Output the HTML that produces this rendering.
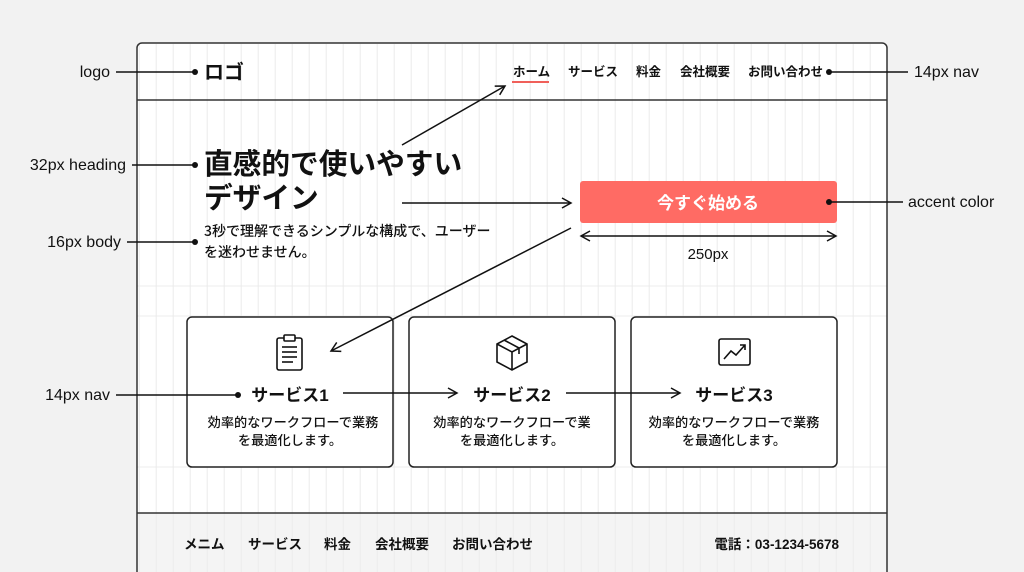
<!DOCTYPE html>
<html><head><meta charset="utf-8"><style>
html,body{margin:0;padding:0;background:#f2f2f2;}
body{width:1024px;height:572px;overflow:hidden;position:relative;font-family:"Liberation Sans","Noto Sans CJK JP",sans-serif;}
svg{position:absolute;left:0;top:0;}
text{font-family:"Liberation Sans","Noto Sans CJK JP",sans-serif;fill:#111;}
.j{font-family:"Noto Sans CJK JP",sans-serif;}
</style></head><body>
<svg width="1024" height="572" viewBox="0 0 1024 572">
<defs>
<marker id="a" markerWidth="12" markerHeight="12" refX="10" refY="6" orient="auto" markerUnits="userSpaceOnUse"><path d="M1,1 L10,6 L1,11" fill="none" stroke="#111" stroke-width="1.5"/></marker>
<marker id="s" markerWidth="12" markerHeight="12" refX="2" refY="6" orient="auto" markerUnits="userSpaceOnUse"><path d="M11,1 L2,6 L11,11" fill="none" stroke="#111" stroke-width="1.5"/></marker>
<pattern id="g" x="138.7" y="0" width="17" height="572" patternUnits="userSpaceOnUse"><line x1="0.5" y1="0" x2="0.5" y2="572" stroke="#ebebeb" stroke-width="1"/></pattern>
</defs>
<rect x="137" y="43" width="750" height="540" rx="5" fill="#fff"/>
<rect x="137" y="513" width="750" height="70" fill="#f4f4f4"/>
<rect x="138" y="44" width="748" height="540" fill="url(#g)"/>
<g stroke="#ececec" stroke-width="1"><line x1="137" y1="286" x2="887" y2="286"/><line x1="137" y1="316" x2="887" y2="316"/><line x1="137" y1="467" x2="887" y2="467"/></g>
<rect x="137" y="43" width="750" height="540" rx="5" fill="none" stroke="#333" stroke-width="1.5"/>
<line x1="137" y1="100" x2="887" y2="100" stroke="#333" stroke-width="1.5"/>
<line x1="137" y1="513" x2="887" y2="513" stroke="#333" stroke-width="1.5"/>

<text x="204" y="79" class="j" font-size="20" font-weight="bold">ロゴ</text>
<g class="j" font-size="12.5" font-weight="bold">
<text x="513" y="76">ホーム</text><text x="568" y="76">サービス</text><text x="636" y="76">料金</text><text x="680" y="76">会社概要</text><text x="748" y="76">お問い合わせ</text>
</g>
<line x1="512" y1="82" x2="549" y2="82" stroke="#f0605a" stroke-width="2"/>

<text x="204" y="174" class="j" font-size="28.7" font-weight="bold">直感的で使いやすい</text>
<text x="204" y="208" class="j" font-size="28.7" font-weight="bold">デザイン</text>
<text x="204" y="236" class="j" font-size="14" font-weight="500">3秒で理解できるシンプルな構成で、ユーザー</text>
<text x="204" y="257" class="j" font-size="14" font-weight="500">を迷わせません。</text>
<rect x="580" y="181" width="257" height="42" rx="3" fill="#ff6b64"/>
<text x="708" y="209" class="j" font-size="17" font-weight="bold" text-anchor="middle" style="fill:#fff">今すぐ始める</text>
<line x1="581" y1="236" x2="836" y2="236" stroke="#111" stroke-width="1.5" marker-start="url(#s)" marker-end="url(#a)"/>
<text x="708" y="259" font-size="15" text-anchor="middle">250px</text>

<g fill="#fff" stroke="#222" stroke-width="1.5">
<rect x="187" y="317" width="206" height="150" rx="5"/>
<rect x="409" y="317" width="206" height="150" rx="5"/>
<rect x="631" y="317" width="206" height="150" rx="5"/>
</g>
<g fill="none" stroke="#111" stroke-width="1.6">
<rect x="277" y="338" width="25" height="32" rx="2"/><rect x="284" y="335" width="11" height="6" rx="1" fill="#fff"/>
<line x1="282" y1="347" x2="297" y2="347"/><line x1="282" y1="352" x2="297" y2="352"/><line x1="282" y1="357" x2="297" y2="357"/><line x1="282" y1="362" x2="293" y2="362"/>
<path d="M512,336 L527,344 L527,362 L512,370 L497,362 L497,344 Z M497,344 L512,352 L527,344 M512,352 L512,370 M504,340 L519,348 L519,354"/>
<rect x="719" y="339" width="31" height="26" rx="2"/><path d="M724,359 L731,351 L736,355 L745,345 M740,345 L745,345 L745,350"/>
</g>
<g class="j" font-weight="bold" font-size="17" text-anchor="middle">
<text x="290" y="401">サービス1</text><text x="512" y="401">サービス2</text><text x="734" y="401">サービス3</text>
</g>
<g class="j" font-size="13.2" font-weight="500" text-anchor="middle">
<text x="293" y="427">効率的なワークフローで業務</text><text x="290" y="445">を最適化します。</text>
<text x="512" y="427">効率的なワークフローで業</text><text x="512" y="445">を最適化します。</text>
<text x="734" y="427">効率的なワークフローで業務</text><text x="734" y="445">を最適化します。</text>
</g>

<g class="j" font-size="13.5" font-weight="bold">
<text x="184" y="549">メニム</text><text x="248" y="549">サービス</text><text x="324" y="549">料金</text><text x="375" y="549">会社概要</text><text x="452" y="549">お問い合わせ</text>
<text x="839" y="549" text-anchor="end">電話：03-1234-5678</text>
</g>

<g stroke="#111" stroke-width="1.5" fill="none">
<line x1="116" y1="72" x2="195" y2="72"/>
<line x1="132" y1="165" x2="195" y2="165"/>
<line x1="127" y1="242" x2="195" y2="242"/>
<line x1="116" y1="395" x2="238" y2="395"/>
<line x1="830" y1="72" x2="908" y2="72"/>
<line x1="830" y1="202" x2="903" y2="202"/>
<line x1="402" y1="145" x2="505" y2="86" marker-end="url(#a)"/>
<line x1="402" y1="203" x2="571" y2="203" marker-end="url(#a)"/>
<line x1="571" y1="228" x2="331" y2="351" marker-end="url(#a)"/>
<line x1="343" y1="393" x2="457" y2="393" marker-end="url(#a)"/>
<line x1="566" y1="393" x2="680" y2="393" marker-end="url(#a)"/>
</g>
<g fill="#111">
<circle cx="195" cy="72" r="3"/><circle cx="195" cy="165" r="3"/><circle cx="195" cy="242" r="3"/><circle cx="238" cy="395" r="3"/>
<circle cx="829" cy="72" r="3"/><circle cx="829" cy="202" r="3"/>
</g>
<g font-size="16">
<text x="110" y="77" text-anchor="end">logo</text>
<text x="126" y="170" text-anchor="end">32px heading</text>
<text x="121" y="247" text-anchor="end">16px body</text>
<text x="110" y="400" text-anchor="end">14px nav</text>
<text x="914" y="77">14px nav</text>
<text x="908" y="207">accent color</text>
</g>
</svg>
</body></html>
